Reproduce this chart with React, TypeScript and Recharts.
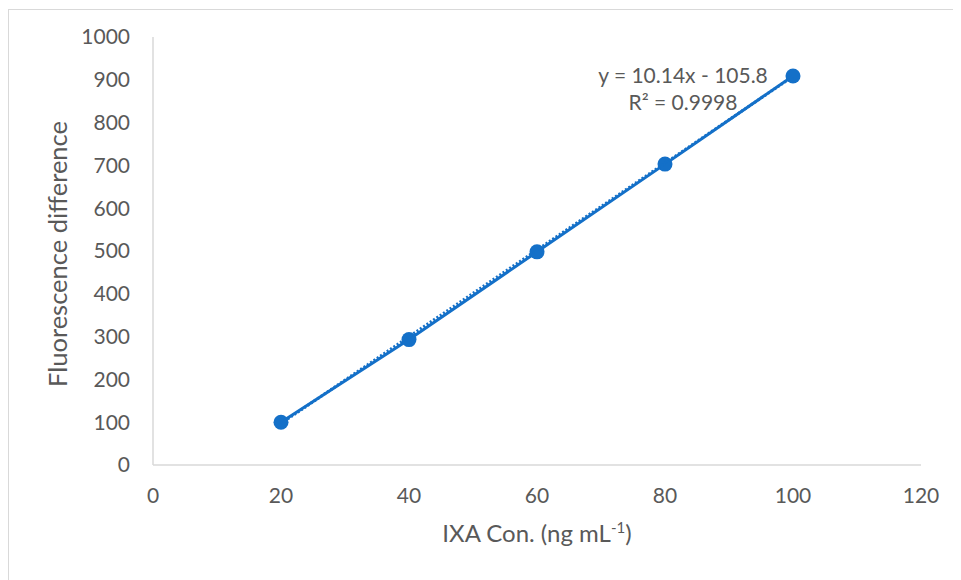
import { ScatterChart, Scatter, XAxis, YAxis } from "recharts";

// calibration points
const concentrations = [20, 40, 60, 80, 100];
const fluorescence = [100, 293, 498, 703, 909];

// linear trendline ends (x = 20 and x = 100)
const trendX = [20, 100];
const trendY = [97, 908];

const xTicks = [0, 20, 40, 60, 80, 100, 120];
const yTicks = [0, 100, 200, 300, 400, 500, 600, 700, 800, 900, 1000];

const equationText = "y = 10.14x - 105.8";
const rSquaredText = "R² = 0.9998";

const points = concentrations.map((x, i) => ({ x, y: fluorescence[i] }));
const trend = trendX.map((x, i) => ({ x, y: trendY[i] }));

const BLUE = "#1470c8";
const TEXT = "#595959";
const FONT = "Lato, 'Open Sans', sans-serif";

const Dot = (props: any) => (
  <circle cx={props.cx} cy={props.cy} r={7.5} fill={BLUE} />
);
const NoDot = () => <g />;

export default function App() {
  return (
    <div
      style={{
        position: "relative",
        width: 960,
        height: 580,
        marginTop: 1,
        border: "1px solid #d9d9d9",
        background: "#fff",
        fontFamily: FONT,
      }}
    >
      <ScatterChart
        width={960}
        height={580}
        margin={{ top: 27, right: 48, left: 84, bottom: 95 }}
      >
        <XAxis
          type="number"
          dataKey="x"
          domain={[0, 120]}
          ticks={xTicks}
          height={30}
          axisLine={{ stroke: "#d9d9d9", strokeWidth: 1.5 }}
          tickLine={false}
          tickSize={0}
          tickMargin={23}
          tick={{ fill: TEXT, fontSize: 21, fontFamily: FONT }}
        />
        <YAxis
          type="number"
          dataKey="y"
          domain={[0, 1000]}
          ticks={yTicks}
          width={60}
          axisLine={{ stroke: "#d9d9d9", strokeWidth: 1.5 }}
          tickLine={false}
          tickSize={0}
          tickMargin={23}
          tick={{ fill: TEXT, fontSize: 21, fontFamily: FONT }}
        />
        <Scatter
          data={points}
          line={{ stroke: BLUE, strokeWidth: 3 }}
          lineType="joint"
          shape={Dot}
          isAnimationActive={false}
        />
        <Scatter
          data={trend}
          line={{ stroke: BLUE, strokeWidth: 3, strokeDasharray: "2 2" }}
          lineType="joint"
          shape={NoDot}
          isAnimationActive={false}
        />
      </ScatterChart>

      <div
        style={{
          position: "absolute",
          left: 674,
          top: 51,
          transform: "translateX(-50%)",
          textAlign: "center",
          color: TEXT,
          fontSize: 21,
          lineHeight: "27px",
          whiteSpace: "nowrap",
        }}
      >
        <div>{equationText}</div>
        <div>{rSquaredText}</div>
      </div>

      <div
        style={{
          position: "absolute",
          left: 48,
          top: 244,
          transform: "translate(-50%, -50%) rotate(-90deg)",
          color: TEXT,
          fontSize: 25.5,
          whiteSpace: "nowrap",
        }}
      >
        Fluorescence difference
      </div>

      <div
        style={{
          position: "absolute",
          left: 528,
          top: 522,
          transform: "translate(-50%, -50%)",
          color: TEXT,
          fontSize: 24,
          whiteSpace: "nowrap",
        }}
      >
        IXA Con. (ng mL<sup style={{ fontSize: 15 }}>-1</sup>)
      </div>
    </div>
  );
}
